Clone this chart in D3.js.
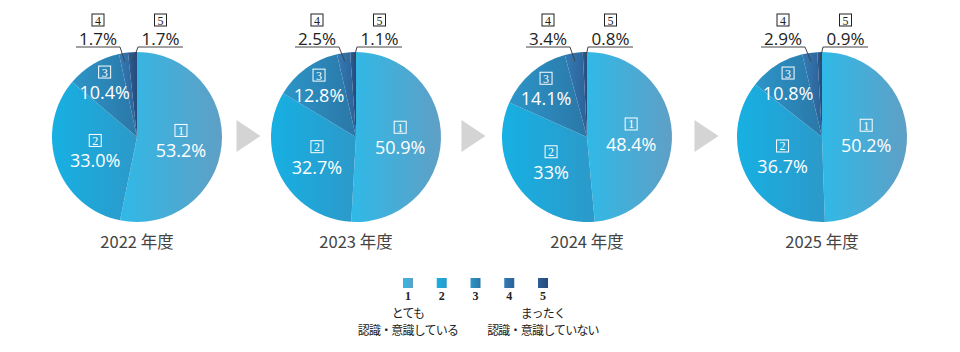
<!DOCTYPE html>
<html>
<head>
<meta charset="utf-8">
<script src="https://cdn.jsdelivr.net/npm/d3@7"></script>
<style>
  body { margin: 0; background: #fff; }
</style>
</head>
<body>
<svg id="drawing_region"></svg>
<script>
// data
const years = ['2022 年度', '2023 年度', '2024 年度', '2025 年度'];
const share1 = ['53.2', '50.9', '48.4', '50.2'];
const share2 = ['33.0', '32.7', '33', '36.7'];
const share3 = ['10.4', '12.8', '14.1', '10.8'];
const share4 = ['1.7', '2.5', '3.4', '2.9'];
const share5 = ['1.7', '1.1', '0.8', '0.9'];
const answerNums = ['1', '2', '3', '4', '5'];
const legendLeft = ['とても', '認識・意識している'];
const legendRight = ['まったく', '認識・意識していない'];

const config = {
    width: 960,
    height: 352,
    centers: [137, 356, 587, 822],
    cy: 137,
    radius: 85
};

// gradient stops per answer (left -> right)
const gradColors = [
    ['#30b9e7', '#5f9fc5'],
    ['#17b0e3', '#2c99c9'],
    ['#2d95c8', '#2a77a7'],
    ['#347bb6', '#2c6196'],
    ['#2f5e94', '#244a7b']
];

const rows = years.map((y, i) => ({
    year: y,
    values: [share1[i], share2[i], share3[i], share4[i], share5[i]]
        .map((v, k) => ({ num: answerNums[k], label: v + '%', v: +v, k: k }))
}));

const svg = d3.select('#drawing_region')
    .attr('width', config.width)
    .attr('height', config.height);

const defs = svg.append('defs');
gradColors.forEach((c, k) => {
    const g = defs.append('linearGradient')
        .attr('id', 'grad' + k)
        .attr('x1', 0).attr('x2', 1).attr('y1', 0).attr('y2', 0);
    g.append('stop').attr('offset', '0%').attr('stop-color', c[0]);
    g.append('stop').attr('offset', '100%').attr('stop-color', c[1]);
});

const xScale = d3.scaleOrdinal().domain(years).range(config.centers);
const r = config.radius;

const pie = d3.pie().sort(null).value(d => d.v);
const arc = d3.arc().innerRadius(0).outerRadius(r);
const innerArc = d3.arc().innerRadius(r * 0.52).outerRadius(r * 0.52);
const thirdArc = d3.arc().innerRadius(r * 0.74).outerRadius(r * 0.74);
const edgeArc = d3.arc().innerRadius(r * 0.9).outerRadius(r * 0.9);

const pctFont = '"Open Sans", "Noto Sans", sans-serif';
const numFont = '"Liberation Serif", "DejaVu Serif", serif';
const jpFont = '"Noto Sans CJK JP", sans-serif';

// boxed digit
function boxNum(g, x, y, txt, color) {
    g.append('rect')
        .attr('x', x - 6).attr('y', y - 6)
        .attr('width', 12).attr('height', 12)
        .attr('fill', 'none')
        .attr('stroke', color)
        .attr('stroke-width', 1);
    g.append('text')
        .attr('x', x).attr('y', y + 4.5)
        .attr('text-anchor', 'middle')
        .attr('font-family', numFont)
        .attr('font-size', 12)
        .attr('fill', color)
        .text(txt);
}

rows.forEach(row => {
    const cx = xScale(row.year);
    const g = svg.append('g').attr('transform', `translate(${cx},${config.cy})`);
    const arcs = pie(row.values);

    g.selectAll('path')
        .data(arcs)
        .join('path')
        .attr('d', arc)
        .attr('fill', d => `url(#grad${d.data.k})`);

    // labels inside the pie (answers 1-3)
    arcs.filter(d => d.data.k < 3).forEach(d => {
        const c = d.data.k < 2 ? innerArc.centroid(d) : thirdArc.centroid(d);
        boxNum(g, c[0], c[1] - 11, d.data.num, '#fff');
        g.append('text')
            .attr('x', c[0]).attr('y', c[1] + 16)
            .attr('text-anchor', 'middle')
            .attr('font-family', pctFont)
            .attr('font-size', 18)
            .attr('fill', '#fff')
            .text(d.data.label);
    });

    // outside labels with leader lines (answers 4 and 5)
    arcs.filter(d => d.data.k >= 3).forEach(d => {
        const left = d.data.k === 3;
        const p = edgeArc.centroid(d);
        const lineY = -90;
        const elbowX = left ? -17 : 1;
        const endX = left ? elbowX - 44 : elbowX + 45;
        const mid = (elbowX + endX) / 2;
        g.append('polyline')
            .attr('points', [[p[0], p[1]], [elbowX, lineY], [endX, lineY]].map(q => q.join(',')).join(' '))
            .attr('fill', 'none')
            .attr('stroke', '#444')
            .attr('stroke-width', 1);
        g.append('text')
            .attr('x', mid).attr('y', lineY - 2)
            .attr('text-anchor', 'middle')
            .attr('font-family', pctFont)
            .attr('font-size', 17)
            .attr('fill', '#222')
            .text(d.data.label);
        boxNum(g, mid, lineY - 27, d.data.num, '#222');
    });

    // year label
    svg.append('text')
        .attr('x', cx).attr('y', config.cy + r + 26)
        .attr('text-anchor', 'middle')
        .attr('font-family', jpFont)
        .attr('font-size', 16.5)
        .attr('fill', '#444')
        .text(row.year);
});

// arrows between pies
for (let i = 0; i < years.length - 1; i++) {
    const a = xScale(years[i]) + r;
    const b = xScale(years[i + 1]) - r;
    const m = (a + b) / 2;
    svg.append('polygon')
        .attr('points', `${m - 10},${config.cy - 17} ${m + 14},${config.cy - 1} ${m - 10},${config.cy + 15}`)
        .attr('fill', '#d4d4d4');
}

// legend
const lx = d3.scalePoint().domain(answerNums).range([408, 543]);
const legend = svg.append('g');
legend.selectAll('rect')
    .data(answerNums)
    .join('rect')
    .attr('x', d => lx(d) - 5)
    .attr('y', 278)
    .attr('width', 10).attr('height', 10)
    .attr('fill', (d, i) => `url(#grad${i})`);
legend.selectAll('text.num')
    .data(answerNums)
    .join('text')
    .attr('class', 'num')
    .attr('x', d => lx(d))
    .attr('y', 300)
    .attr('text-anchor', 'middle')
    .attr('font-family', numFont)
    .attr('font-weight', 'bold')
    .attr('font-size', 12)
    .attr('fill', '#222')
    .text(d => d);

[[legendLeft, answerNums[0]], [legendRight, answerNums[4]]].forEach(([lines, key]) => {
    lines.forEach((t, j) => {
        legend.append('text')
            .attr('x', lx(key))
            .attr('y', 318 + j * 17)
            .attr('text-anchor', 'middle')
            .attr('font-family', jpFont)
            .attr('font-size', 12)
            .attr('letter-spacing', -0.8)
            .attr('fill', '#222')
            .text(t);
    });
});
</script>
</body>
</html>
